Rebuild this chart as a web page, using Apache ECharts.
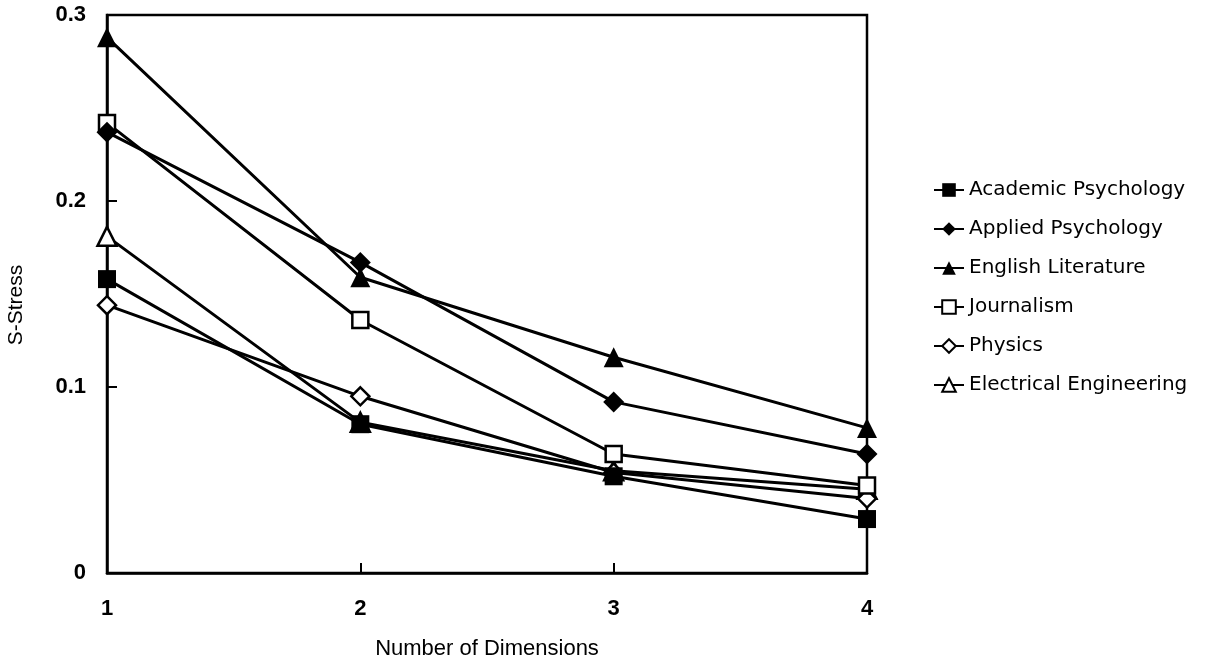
<!DOCTYPE html>
<html><head><meta charset="utf-8">
<script src="https://cdn.jsdelivr.net/npm/echarts@6/dist/echarts.min.js"></script>
<style>html,body{margin:0;padding:0;background:#fff}#c{width:1225px;height:662px}</style>
</head><body><div id="c"></div>
<script>
const dimensions = [1, 2, 3, 4];
const academicPsychology = [0.158, 0.080, 0.052, 0.029];
const appliedPsychology = [0.237, 0.167, 0.092, 0.064];
const englishLiterature = [0.288, 0.159, 0.116, 0.078];
const journalism = [0.242, 0.136, 0.064, 0.047];
const physics = [0.144, 0.095, 0.054, 0.040];
const electricalEngineering = [0.181, 0.081, 0.055, 0.045];
const yTicks = [0, 0.1, 0.2, 0.3];

const seriesDefs = [
  {name: 'Academic Psychology', data: academicPsychology, symbol: 'rect', fill: '#000', size: 18, z: 8},
  {name: 'Applied Psychology', data: appliedPsychology, symbol: 'diamond', fill: '#000', size: 21, z: 7},
  {name: 'English Literature', data: englishLiterature, symbol: 'triangle', fill: '#000', size: 20, z: 6},
  {name: 'Journalism', data: journalism, symbol: 'rect', fill: '#fff', size: 16, z: 5},
  {name: 'Physics', data: physics, symbol: 'diamond', fill: '#fff', size: 18, z: 4},
  {name: 'Electrical Engineering', data: electricalEngineering, symbol: 'triangle', fill: '#fff', size: 19, z: 3}
];

const font = 'Liberation Sans, Arial, sans-serif';
const chart = echarts.init(document.getElementById('c'));
chart.setOption({
  animation: false,
  backgroundColor: '#fff',
  grid: {left: 107, top: 15, width: 760, height: 558, containLabel: false, outerBoundsMode: 'none',
    show: true, borderColor: '#000', borderWidth: 2.5, backgroundColor: 'transparent'},
  xAxis: {
    type: 'value', min: 1, max: 4, interval: 1,
    name: 'Number of Dimensions', nameLocation: 'middle', nameGap: 65,
    nameTextStyle: {fontFamily: font, fontSize: 22, color: '#000'},
    axisLine: {show: true, lineStyle: {color: '#000', width: 2.5}},
    axisTick: {show: true, inside: true, length: 10, lineStyle: {color: '#000', width: 2}},
    axisLabel: {margin: 25, fontFamily: font, fontSize: 22, fontWeight: 'bold', color: '#000'},
    splitLine: {show: false}
  },
  yAxis: {
    type: 'value', min: 0, max: 0.3, interval: 0.1,
    name: 'S-Stress', nameLocation: 'middle', nameGap: 80,
    nameTextStyle: {fontFamily: font, fontSize: 21, color: '#000', padding: [0, 22, 0, 0]},
    axisLine: {show: true, lineStyle: {color: '#000', width: 2.5}},
    axisTick: {show: true, inside: true, length: 10, lineStyle: {color: '#000', width: 2}},
    axisLabel: {margin: 21, fontFamily: font, fontSize: 22, fontWeight: 'bold', color: '#000',
      formatter: v => { const t = yTicks.find(k => Math.abs(k - v) < 1e-9); return t === undefined ? '' : String(t); }},
    splitLine: {show: false}
  },
  legend: {
    orient: 'vertical', left: 928, top: 175, itemGap: 19, itemWidth: 30, itemHeight: 17,
    textStyle: {fontFamily: 'DejaVu Sans, sans-serif', fontSize: 20, color: '#000'},
    data: seriesDefs.map(s => s.name)
  },
  series: seriesDefs.map(s => ({
    name: s.name, type: 'line', z: s.z,
    data: s.data.map((v, i) => [dimensions[i], v]),
    symbol: s.symbol, symbolSize: s.size, showAllSymbol: true,
    lineStyle: {color: '#000', width: 3},
    itemStyle: {color: s.fill, borderColor: '#000', borderWidth: s.fill === '#fff' ? 2.5 : 0},
    emphasis: {disabled: true}
  }))
});
</script></body></html>
